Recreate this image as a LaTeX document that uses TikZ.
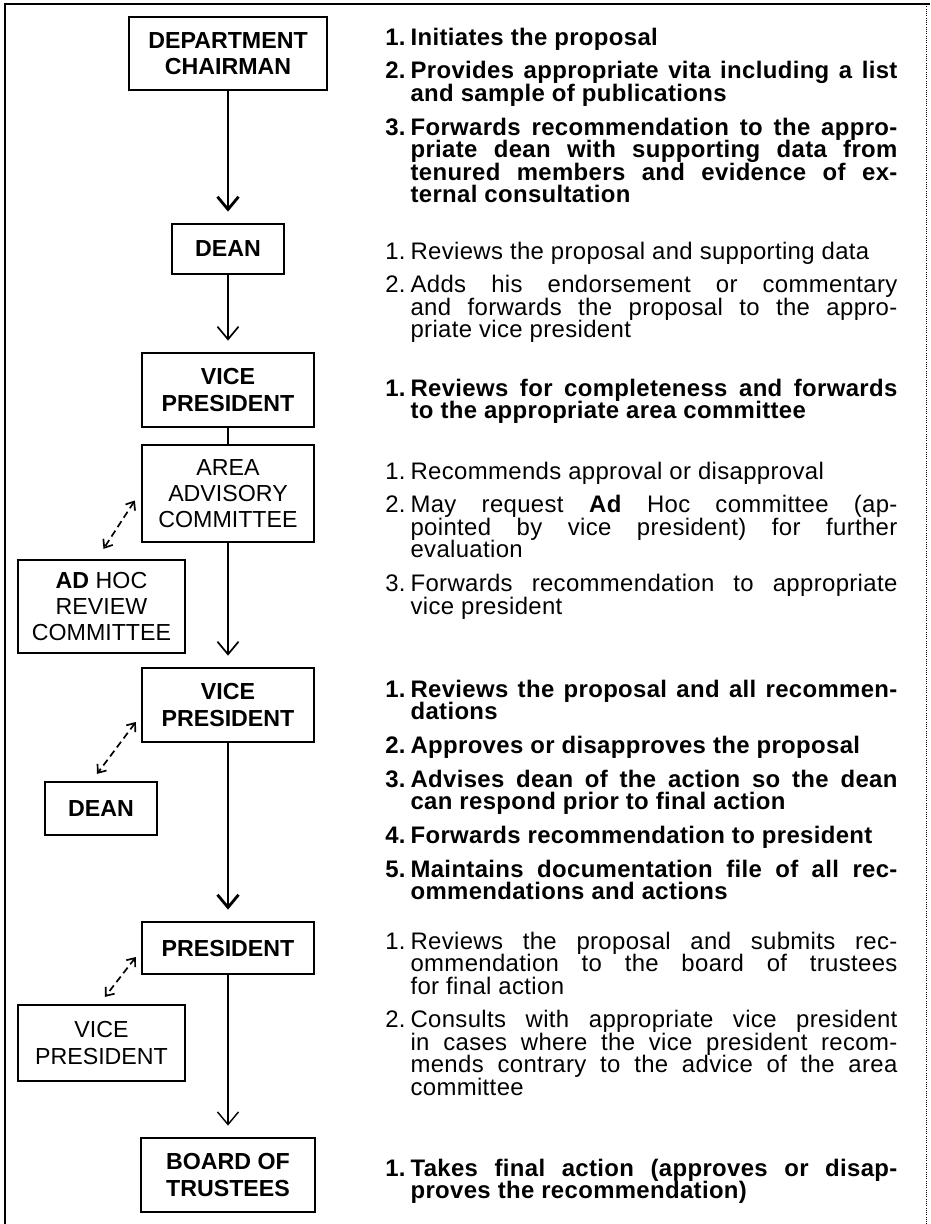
\documentclass[tikz,border=0pt]{standalone}
\usepackage{fontspec}
\setmainfont{Liberation Sans}
\newfontfamily\listsans[LetterSpace=1.5]{Liberation Sans}
\usetikzlibrary{arrows.meta,positioning}

\newcommand\boxfont{\fontsize{16.5}{18.5}\selectfont}
\newcommand\listfont{\listsans\fontsize{17}{16}\selectfont\lineskiplimit=-20pt\setlength\parskip{8pt}\tolerance=10000\hyphenpenalty=10000}
\newcommand\entry[2]{\par\hangindent=18pt\hangafter=1\noindent\makebox[18pt][l]{#1.}#2\par}

\begin{document}
\begin{tikzpicture}[x=0.025cm, y=-0.025cm,
    box/.style={draw, line width=1.6pt, align=center, inner sep=0pt, font=\boxfont},
    boldbox/.style={box, font=\boxfont\bfseries},
    flow/.style={-{Straight Barb[length=9pt, width=15pt]}, shorten >=8pt},
    consult/.style={{Straight Barb[length=5pt, width=8pt]}-{Straight Barb[length=5pt, width=8pt]}, line width=1.2pt, dash pattern=on 5pt off 3pt},
    duties/.style={anchor=north west, text width=12.8cm, inner sep=0pt, align=justify, font=\listfont},
    boldduties/.style={duties, font=\listfont\bfseries}]
            \useasboundingbox (0,0) rectangle (930,1224);
            \draw[line width=2pt] (5,1224) -- (5,4) -- (930,4);
            \draw[line width=0.6pt, densely dotted] (926,4) -- (926,1224);

            \node[boldbox, minimum width=4.95cm, minimum height=1.825cm] (chair) at (228,53.5) {DEPARTMENT\\CHAIRMAN};
            \node[boldbox, minimum width=2.8cm, minimum height=1.25cm] (dean) at (228,249) {DEAN};
            \node[boldbox, minimum width=4.3cm, minimum height=1.85cm] (vp) at (228,390) {VICE\\PRESIDENT};
            \node[box, minimum width=4.3cm, minimum height=2.425cm] (area) at (228,493.5) {AREA\\ADVISORY\\COMMITTEE};
            \node[box, minimum width=4.175cm, minimum height=2.325cm] (adhoc) at (101.5,606.5) {\textbf{AD} HOC\\REVIEW\\COMMITTEE};
            \node[boldbox, minimum width=4.3cm, minimum height=1.85cm] (vpb) at (228,705) {VICE\\PRESIDENT};
            \node[boldbox, minimum width=2.8cm, minimum height=1.325cm] (deanb) at (101,808.5) {DEAN};
            \node[boldbox, minimum width=4.3cm, minimum height=1.3cm] (pres) at (228,948) {PRESIDENT};
            \node[box, minimum width=4.175cm, minimum height=1.9cm] (vpc) at (101.5,1043) {VICE\\PRESIDENT};
            \node[boldbox, minimum width=4.35cm, minimum height=1.85cm] (board) at (228,1175) {BOARD OF\\TRUSTEES};

            \draw[flow, line width=2pt] (chair) -- (dean);
            \draw[flow, line width=1.2pt] (dean) -- (vp);
            \draw[line width=2pt] (vp) -- (area);
            \draw[flow, line width=1.2pt] (area) -- (vpb);
            \draw[flow, line width=2pt] (vpb) -- (pres);
            \draw[flow, line width=1pt] (pres) -- (board);

            \draw[consult] ([shift={(-6,7)}]area.west) -- ([shift={(2,-10)}]adhoc.north);
            \draw[consult] ([shift={(-5,17)}]vpb.west) -- ([shift={(-4,-7)}]deanb.north);
            \draw[consult] ([shift={(-5,9)}]pres.west) -- ([shift={(3.5,-7)}]vpc.north);

            \node[boldduties] (chairtasks) at (385,11) {
                \entry{1}{Initiates the proposal}
                \entry{2}{Provides appropriate vita including a list\linebreak and sample of publications}
                \entry{3}{Forwards recommendation to the appro-\linebreak priate dean with supporting data from\linebreak tenured members and evidence of ex-\linebreak ternal consultation}};
            \node[duties] (deantasks) at (385,225) {
                \entry{1}{Reviews the proposal and supporting data}
                \entry{2}{Adds his endorsement or commentary\linebreak and forwards the proposal to the appro-\linebreak priate vice president}};
            \node[boldduties] (vptasks) at (385,362) {
                \entry{1}{Reviews for completeness and forwards\linebreak to the appropriate area committee}};
            \node[duties] (areatasks) at (385,445) {
                \entry{1}{Recommends approval or disapproval}
                \entry{2}{May request \textbf{Ad} Hoc committee (ap-\linebreak pointed by vice president) for further\linebreak evaluation}
                \entry{3}{Forwards recommendation to appropriate\linebreak vice president}};
            \node[boldduties] (vpbtasks) at (385,663) {
                \entry{1}{Reviews the proposal and all recommen-\linebreak dations}
                \entry{2}{Approves or disapproves the proposal}
                \entry{3}{Advises dean of the action so the dean\linebreak can respond prior to final action}
                \entry{4}{Forwards recommendation to president}
                \entry{5}{Maintains documentation file of all rec-\linebreak ommendations and actions}};
            \node[duties] (prestasks) at (385,915) {
                \entry{1}{Reviews the proposal and submits rec-\linebreak ommendation to the board of trustees\linebreak for final action}
                \entry{2}{Consults with appropriate vice president\linebreak in cases where the vice president recom-\linebreak mends contrary to the advice of the area\linebreak committee}};
            \node[boldduties] (boardtasks) at (385,1142) {
                \entry{1}{Takes final action (approves or disap-\linebreak proves the recommendation)}};
        \end{tikzpicture}
\end{document}
